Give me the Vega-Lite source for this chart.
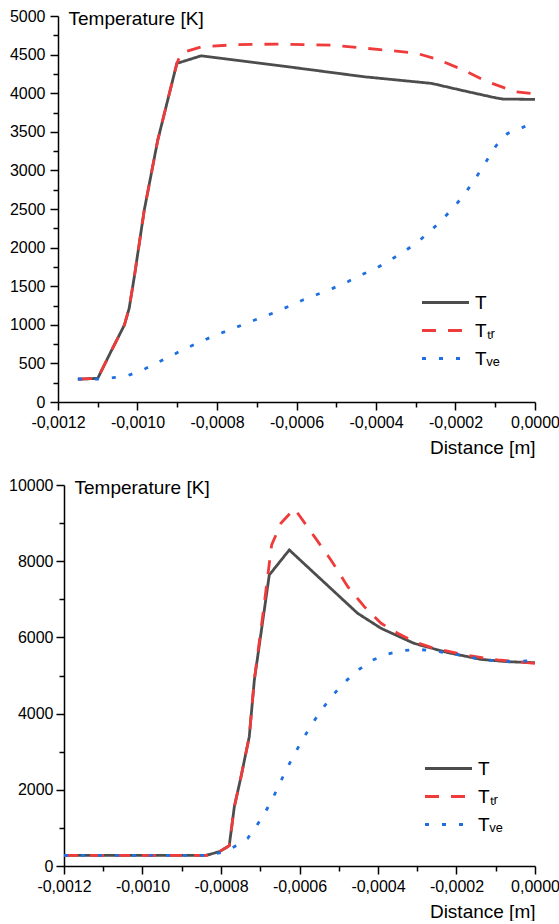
{
  "$schema": "https://vega.github.io/schema/vega-lite/v6.json",
  "padding": {"left": 8, "top": 8, "right": 0, "bottom": 0},
  "autosize": {"type": "pad"},
  "spacing": 20,
  "datasets": {
    "top": [
      {"d": -0.00115, "temp": 295, "s": "T"},
      {"d": -0.0011, "temp": 307, "s": "T"},
      {"d": -0.001067, "temp": 651, "s": "T"},
      {"d": -0.001033, "temp": 997, "s": "T"},
      {"d": -0.001021, "temp": 1213, "s": "T"},
      {"d": -0.001008, "temp": 1623, "s": "T"},
      {"d": -0.000983, "temp": 2486, "s": "T"},
      {"d": -0.000949, "temp": 3393, "s": "T"},
      {"d": -0.000901, "temp": 4386, "s": "T"},
      {"d": -0.00084, "temp": 4484, "s": "T"},
      {"d": -0.00064, "temp": 4355, "s": "T"},
      {"d": -0.00043, "temp": 4213, "s": "T"},
      {"d": -0.00026, "temp": 4127, "s": "T"},
      {"d": -0.00018, "temp": 4032, "s": "T"},
      {"d": -0.0001, "temp": 3941, "s": "T"},
      {"d": -0.00008, "temp": 3924, "s": "T"},
      {"d": 0, "temp": 3920, "s": "T"},

      {"d": -0.00115, "temp": 295, "s": "Tₜᵣ"},
      {"d": -0.0011, "temp": 307, "s": "Tₜᵣ"},
      {"d": -0.001067, "temp": 651, "s": "Tₜᵣ"},
      {"d": -0.001033, "temp": 997, "s": "Tₜᵣ"},
      {"d": -0.001021, "temp": 1213, "s": "Tₜᵣ"},
      {"d": -0.001008, "temp": 1623, "s": "Tₜᵣ"},
      {"d": -0.000983, "temp": 2486, "s": "Tₜᵣ"},
      {"d": -0.000949, "temp": 3393, "s": "Tₜᵣ"},
      {"d": -0.000901, "temp": 4386, "s": "Tₜᵣ"},
      {"d": -0.00089, "temp": 4520, "s": "Tₜᵣ"},
      {"d": -0.00084, "temp": 4600, "s": "Tₜᵣ"},
      {"d": -0.00075, "temp": 4630, "s": "Tₜᵣ"},
      {"d": -0.00064, "temp": 4636, "s": "Tₜᵣ"},
      {"d": -0.00051, "temp": 4622, "s": "Tₜᵣ"},
      {"d": -0.00039, "temp": 4565, "s": "Tₜᵣ"},
      {"d": -0.0003, "temp": 4520, "s": "Tₜᵣ"},
      {"d": -0.000245, "temp": 4437, "s": "Tₜᵣ"},
      {"d": -0.00018, "temp": 4300, "s": "Tₜᵣ"},
      {"d": -0.00012, "temp": 4149, "s": "Tₜᵣ"},
      {"d": -0.00005, "temp": 4020, "s": "Tₜᵣ"},
      {"d": 0, "temp": 3990, "s": "Tₜᵣ"},

      {"d": -0.00115, "temp": 298, "s": "Tᵥₑ"},
      {"d": -0.0011, "temp": 298, "s": "Tᵥₑ"},
      {"d": -0.001062, "temp": 315, "s": "Tᵥₑ"},
      {"d": -0.001025, "temp": 341, "s": "Tᵥₑ"},
      {"d": -0.000987, "temp": 414, "s": "Tᵥₑ"},
      {"d": -0.000954, "temp": 501, "s": "Tᵥₑ"},
      {"d": -0.000916, "temp": 596, "s": "Tᵥₑ"},
      {"d": -0.000882, "temp": 686, "s": "Tᵥₑ"},
      {"d": -0.000845, "temp": 773, "s": "Tᵥₑ"},
      {"d": -0.000807, "temp": 859, "s": "Tᵥₑ"},
      {"d": -0.000769, "temp": 932, "s": "Tᵥₑ"},
      {"d": -0.000731, "temp": 1010, "s": "Tᵥₑ"},
      {"d": -0.000694, "temp": 1084, "s": "Tᵥₑ"},
      {"d": -0.000656, "temp": 1157, "s": "Tᵥₑ"},
      {"d": -0.000622, "temp": 1234, "s": "Tᵥₑ"},
      {"d": -0.000584, "temp": 1321, "s": "Tᵥₑ"},
      {"d": -0.000547, "temp": 1395, "s": "Tᵥₑ"},
      {"d": -0.000509, "temp": 1472, "s": "Tᵥₑ"},
      {"d": -0.000471, "temp": 1558, "s": "Tᵥₑ"},
      {"d": -0.000438, "temp": 1645, "s": "Tᵥₑ"},
      {"d": -0.0004, "temp": 1731, "s": "Tᵥₑ"},
      {"d": -0.000367, "temp": 1830, "s": "Tᵥₑ"},
      {"d": -0.000333, "temp": 1938, "s": "Tᵥₑ"},
      {"d": -0.000299, "temp": 2055, "s": "Tᵥₑ"},
      {"d": -0.00027, "temp": 2185, "s": "Tᵥₑ"},
      {"d": -0.000241, "temp": 2322, "s": "Tᵥₑ"},
      {"d": -0.000211, "temp": 2486, "s": "Tᵥₑ"},
      {"d": -0.000186, "temp": 2635, "s": "Tᵥₑ"},
      {"d": -0.000161, "temp": 2810, "s": "Tᵥₑ"},
      {"d": -0.00014, "temp": 2974, "s": "Tᵥₑ"},
      {"d": -0.000119, "temp": 3147, "s": "Tᵥₑ"},
      {"d": -0.000098, "temp": 3319, "s": "Tᵥₑ"},
      {"d": -0.000069, "temp": 3479, "s": "Tᵥₑ"},
      {"d": -0.000031, "temp": 3557, "s": "Tᵥₑ"},
      {"d": -0.000005, "temp": 3615, "s": "Tᵥₑ"}
    ],
    "bottom": [
      {"d": -0.0012, "temp": 280, "s": "T"},
      {"d": -0.000838, "temp": 280, "s": "T"},
      {"d": -0.000804, "temp": 376, "s": "T"},
      {"d": -0.000779, "temp": 533, "s": "T"},
      {"d": -0.000766, "temp": 1557, "s": "T"},
      {"d": -0.000749, "temp": 2344, "s": "T"},
      {"d": -0.000728, "temp": 3394, "s": "T"},
      {"d": -0.000715, "temp": 4883, "s": "T"},
      {"d": -0.000677, "temp": 7639, "s": "T"},
      {"d": -0.000626, "temp": 8295, "s": "T"},
      {"d": -0.000562, "temp": 7683, "s": "T"},
      {"d": -0.000452, "temp": 6633, "s": "T"},
      {"d": -0.000392, "temp": 6237, "s": "T"},
      {"d": -0.000308, "temp": 5843, "s": "T"},
      {"d": -0.000222, "temp": 5600, "s": "T"},
      {"d": -0.000138, "temp": 5424, "s": "T"},
      {"d": -0.00007, "temp": 5362, "s": "T"},
      {"d": 0, "temp": 5337, "s": "T"},

      {"d": -0.0012, "temp": 280, "s": "Tₜᵣ"},
      {"d": -0.000838, "temp": 280, "s": "Tₜᵣ"},
      {"d": -0.000804, "temp": 376, "s": "Tₜᵣ"},
      {"d": -0.000779, "temp": 533, "s": "Tₜᵣ"},
      {"d": -0.000766, "temp": 1557, "s": "Tₜᵣ"},
      {"d": -0.000749, "temp": 2344, "s": "Tₜᵣ"},
      {"d": -0.000728, "temp": 3394, "s": "Tₜᵣ"},
      {"d": -0.000715, "temp": 4900, "s": "Tₜᵣ"},
      {"d": -0.000692, "temp": 6700, "s": "Tₜᵣ"},
      {"d": -0.000671, "temp": 8426, "s": "Tₜᵣ"},
      {"d": -0.000647, "temp": 9000, "s": "Tₜᵣ"},
      {"d": -0.000613, "temp": 9380, "s": "Tₜᵣ"},
      {"d": -0.000562, "temp": 8644, "s": "Tₜᵣ"},
      {"d": -0.00052, "temp": 8033, "s": "Tₜᵣ"},
      {"d": -0.000477, "temp": 7332, "s": "Tₜᵣ"},
      {"d": -0.000435, "temp": 6807, "s": "Tₜᵣ"},
      {"d": -0.000392, "temp": 6370, "s": "Tₜᵣ"},
      {"d": -0.00035, "temp": 6108, "s": "Tₜᵣ"},
      {"d": -0.000308, "temp": 5888, "s": "Tₜᵣ"},
      {"d": -0.000265, "temp": 5740, "s": "Tₜᵣ"},
      {"d": -0.00018, "temp": 5539, "s": "Tₜᵣ"},
      {"d": -0.000095, "temp": 5408, "s": "Tₜᵣ"},
      {"d": 0, "temp": 5319, "s": "Tₜᵣ"},

      {"d": -0.0012, "temp": 280, "s": "Tᵥₑ"},
      {"d": -0.000838, "temp": 280, "s": "Tᵥₑ"},
      {"d": -0.0008, "temp": 350, "s": "Tᵥₑ"},
      {"d": -0.000766, "temp": 507, "s": "Tᵥₑ"},
      {"d": -0.000732, "temp": 726, "s": "Tᵥₑ"},
      {"d": -0.000708, "temp": 1076, "s": "Tᵥₑ"},
      {"d": -0.000688, "temp": 1400, "s": "Tᵥₑ"},
      {"d": -0.000668, "temp": 1777, "s": "Tᵥₑ"},
      {"d": -0.000651, "temp": 2153, "s": "Tᵥₑ"},
      {"d": -0.000634, "temp": 2520, "s": "Tᵥₑ"},
      {"d": -0.000615, "temp": 2896, "s": "Tᵥₑ"},
      {"d": -0.000596, "temp": 3247, "s": "Tᵥₑ"},
      {"d": -0.000575, "temp": 3614, "s": "Tᵥₑ"},
      {"d": -0.000554, "temp": 3946, "s": "Tᵥₑ"},
      {"d": -0.00053, "temp": 4287, "s": "Tᵥₑ"},
      {"d": -0.000504, "temp": 4610, "s": "Tᵥₑ"},
      {"d": -0.000477, "temp": 4899, "s": "Tᵥₑ"},
      {"d": -0.000448, "temp": 5162, "s": "Tᵥₑ"},
      {"d": -0.000413, "temp": 5408, "s": "Tᵥₑ"},
      {"d": -0.000375, "temp": 5565, "s": "Tᵥₑ"},
      {"d": -0.000337, "temp": 5652, "s": "Tᵥₑ"},
      {"d": -0.000299, "temp": 5688, "s": "Tᵥₑ"},
      {"d": -0.000257, "temp": 5644, "s": "Tᵥₑ"},
      {"d": -0.000218, "temp": 5583, "s": "Tᵥₑ"},
      {"d": -0.00018, "temp": 5513, "s": "Tᵥₑ"},
      {"d": -0.000138, "temp": 5425, "s": "Tᵥₑ"},
      {"d": -0.0000994, "temp": 5381, "s": "Tᵥₑ"},
      {"d": -0.0000568, "temp": 5363, "s": "Tᵥₑ"},
      {"d": -0.0000186, "temp": 5381, "s": "Tᵥₑ"}
    ]
  },
  "vconcat": [
    {
      "width": 471,
      "height": 386,
      "data": {"name": "top"},
      "mark": {"type": "line", "strokeWidth": 2.8, "strokeCap": "butt"},
      "encoding": {
        "x": {
          "field": "d", "type": "quantitative",
          "scale": {"domain": [-0.0012, 0], "range": [-6, 471], "nice": false, "zero": false},
          "axis": {
            "values": [-0.0012, -0.0011, -0.001, -0.0009, -0.0008, -0.0007, -0.0006, -0.0005, -0.0004, -0.0003, -0.0002, -0.0001, 0],
            "labelExpr": "abs(round(datum.value*10000)) % 2 === 0 ? (datum.value < -0.00000001 ? '-' : '') + replace(format(abs(datum.value), '.4f'), '.', ',') : ''",
            "tickSize": {"condition": {"test": "abs(round(datum.value*10000)) % 2 === 0", "value": 8}, "value": 5},
            "labelPadding": 4,
            "title": "Distance [m]",
            "titleAnchor": "end",
            "titlePadding": 8
          }
        },
        "y": {
          "field": "temp", "type": "quantitative",
          "scale": {"domain": [0, 5000], "nice": false},
          "axis": {
            "offset": 6,
            "values": [0, 250, 500, 750, 1000, 1250, 1500, 1750, 2000, 2250, 2500, 2750, 3000, 3250, 3500, 3750, 4000, 4250, 4500, 4750, 5000],
            "labelExpr": "datum.value % 500 === 0 ? '' + datum.value : ''",
            "tickSize": {"condition": {"test": "datum.value % 500 === 0", "value": 8}, "value": 5},
            "labelPadding": 5,
            "title": "Temperature [K]",
            "titleAngle": 0, "titleAlign": "left", "titleBaseline": "middle",
            "titleX": 10, "titleY": 2
          }
        },
        "color": {
          "field": "s", "type": "nominal",
          "scale": {"domain": ["T", "Tₜᵣ", "Tᵥₑ"], "range": ["#4d4d4d", "#ef3b3b", "#1f6fe0"]},
          "legend": {"orient": "none", "legendX": 368, "legendY": 273, "title": null}
        },
        "strokeDash": {
          "field": "s", "type": "nominal",
          "scale": {"domain": ["T", "Tₜᵣ", "Tᵥₑ"], "range": [[1, 0], [14, 12], [4, 13]]},
          "legend": {"orient": "none", "legendX": 368, "legendY": 273, "title": null}
        }
      }
    },
    {
      "width": 471,
      "height": 381,
      "data": {"name": "bottom"},
      "mark": {"type": "line", "strokeWidth": 2.8, "strokeCap": "butt"},
      "encoding": {
        "x": {
          "field": "d", "type": "quantitative",
          "scale": {"domain": [-0.0012, 0], "nice": false, "zero": false},
          "axis": {
            "values": [-0.0012, -0.0011, -0.001, -0.0009, -0.0008, -0.0007, -0.0006, -0.0005, -0.0004, -0.0003, -0.0002, -0.0001, 0],
            "labelExpr": "abs(round(datum.value*10000)) % 2 === 0 ? (datum.value < -0.00000001 ? '-' : '') + replace(format(abs(datum.value), '.4f'), '.', ',') : ''",
            "tickSize": {"condition": {"test": "abs(round(datum.value*10000)) % 2 === 0", "value": 8}, "value": 5},
            "labelPadding": 4,
            "title": "Distance [m]",
            "titleAnchor": "end",
            "titlePadding": 8
          }
        },
        "y": {
          "field": "temp", "type": "quantitative",
          "scale": {"domain": [0, 10000], "nice": false},
          "axis": {
            "values": [0, 1000, 2000, 3000, 4000, 5000, 6000, 7000, 8000, 9000, 10000],
            "labelExpr": "datum.value % 2000 === 0 ? '' + datum.value : ''",
            "tickSize": {"condition": {"test": "datum.value % 2000 === 0", "value": 8}, "value": 5},
            "labelPadding": 3,
            "title": "Temperature [K]",
            "titleAngle": 0, "titleAlign": "left", "titleBaseline": "middle",
            "titleX": 10, "titleY": 2
          }
        },
        "color": {
          "field": "s", "type": "nominal",
          "scale": {"domain": ["T", "Tₜᵣ", "Tᵥₑ"], "range": ["#4d4d4d", "#ef3b3b", "#1f6fe0"]},
          "legend": {"orient": "none", "legendX": 371, "legendY": 270, "title": null}
        },
        "strokeDash": {
          "field": "s", "type": "nominal",
          "scale": {"domain": ["T", "Tₜᵣ", "Tᵥₑ"], "range": [[1, 0], [14, 12], [4, 13]]},
          "legend": {"orient": "none", "legendX": 371, "legendY": 270, "title": null}
        }
      }
    }
  ],
  "resolve": {
    "scale": {"color": "independent", "strokeDash": "independent"},
    "legend": {"color": "independent", "strokeDash": "independent"}
  },
  "config": {
    "view": {"stroke": null},
    "font": "Liberation Sans",
    "axis": {
      "grid": false,
      "domainColor": "#000", "domainWidth": 1.5,
      "tickColor": "#000", "tickWidth": 1.5,
      "labelColor": "#000", "labelFont": "Liberation Sans", "labelFontSize": 16,
      "labelFlush": false, "labelOverlap": false,
      "titleColor": "#000", "titleFont": "Liberation Sans", "titleFontSize": 19, "titleFontWeight": "normal"
    },
    "legend": {
      "symbolType": "M-2,0H2",
      "symbolSize": 552,
      "symbolStrokeWidth": 3,
      "labelFont": "Liberation Sans",
      "labelFontSize": 19,
      "labelColor": "#000",
      "labelOffset": 16,
      "rowPadding": 4,
      "padding": 0
    }
  }
}
